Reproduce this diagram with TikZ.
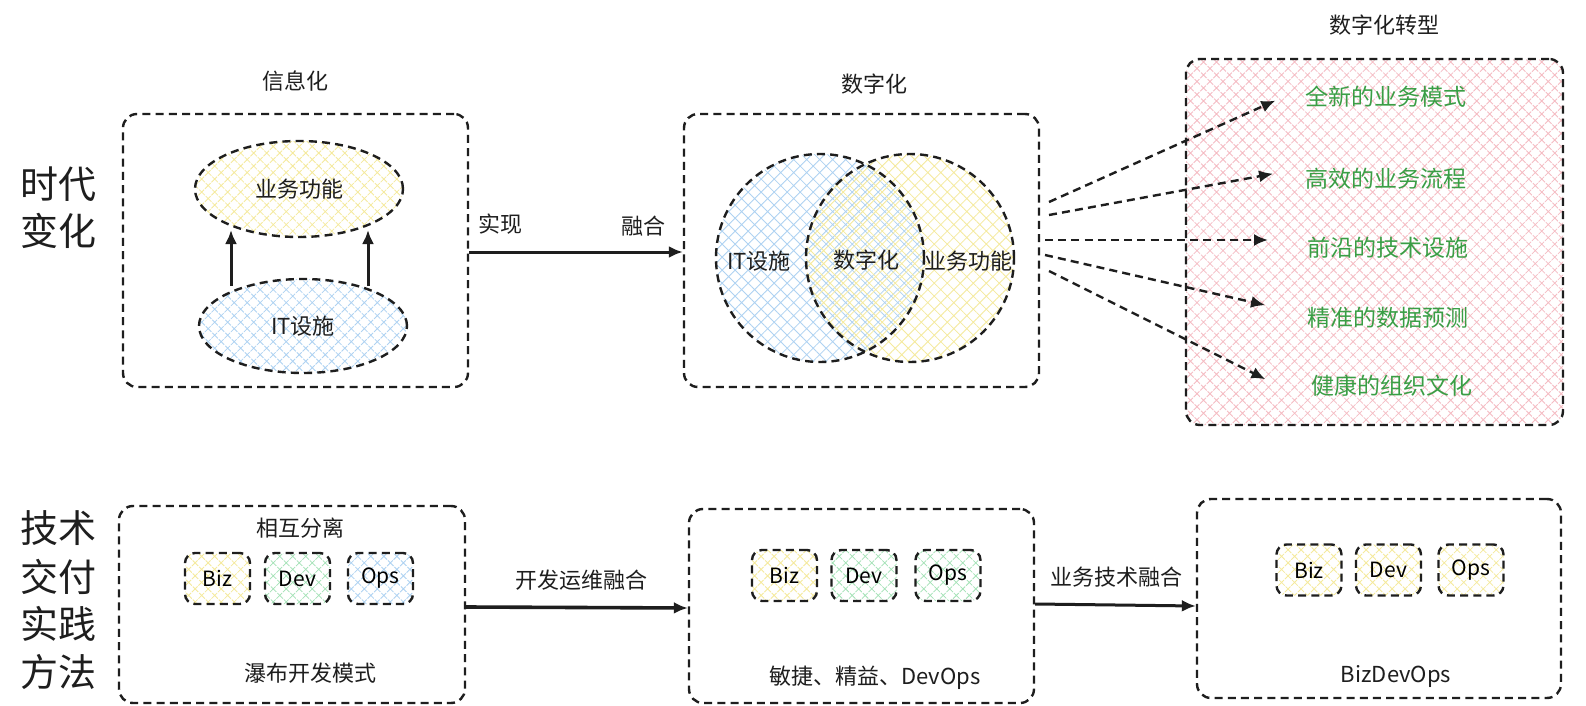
\documentclass[tikz,border=0pt]{standalone}
\usepackage{fontspec}
\setmainfont{Noto Sans CJK SC}
\usetikzlibrary{patterns.meta,shapes.geometric,arrows.meta,calc}
\definecolor{hy}{HTML}{F5EA9C}
\definecolor{hb}{HTML}{AED2F2}
\definecolor{hg}{HTML}{A3E2B6}
\definecolor{hp}{HTML}{F5BCC3}
\definecolor{gtxt}{HTML}{3A9E45}
\definecolor{ink}{HTML}{1E1E1E}
\tikzset{
  dsh/.style={draw=ink,line width=1.2pt,dash pattern=on 4pt off 2.6pt},
  bigbox/.style={dsh,rounded corners=7pt,inner sep=0pt},
  smallbox/.style={dsh,rounded corners=5pt,inner sep=0pt,minimum width=32.5pt,minimum height=25.5pt,font=\fontsize{10.5}{12}\selectfont},
  hatchy/.style={pattern={Hatch[angle=45,distance=4.6pt,line width=0.4pt]},pattern color=hy},
  hatchy2/.style={pattern={Hatch[angle=45,distance=4.6pt,line width=0.4pt,xshift=2pt]},pattern color=hy},
  hatchb/.style={pattern={Hatch[angle=45,distance=4.6pt,line width=0.4pt]},pattern color=hb},
  hatchg/.style={pattern={Hatch[angle=45,distance=4.6pt,line width=0.4pt]},pattern color=hg},
  hatchp/.style={pattern={Hatch[angle=45,distance=4.6pt,line width=0.4pt]},pattern color=hp},
  lbl/.style={font=\fontsize{11}{13}\selectfont,text=ink,inner sep=1pt},
  big/.style={font=\fontsize{19}{22}\selectfont,text=ink,inner sep=0pt},
  green/.style={font=\fontsize{11.5}{13}\selectfont,text=gtxt,inner sep=1pt},
  solidarrow/.style={draw=ink,line width=1.5pt,-{Latex[length=7pt,width=6pt]}},
  dasharrow/.style={dsh,-{Latex[length=7pt,width=6pt]},shorten >=2pt},
}
\begin{document}
\begin{tikzpicture}[x=0.5pt,y=-0.5pt]
\useasboundingbox[fill=white] (0,0) rectangle (1586,706);

% left labels
\node[big] (l1) at (58,184) {时代};
\node[big] (l2) at (58,231) {变化};
\node[big] (l3) at (58,528) {技术};
\node[big] (l4) at (58,577) {交付};
\node[big] (l5) at (58,624) {实践};
\node[big] (l6) at (58,672) {方法};

% ---- box 1 : 信息化
\node[bigbox,minimum width=172.5pt,minimum height=136.5pt] (box1) at (295.5,250.5) {};
\node[lbl] (t1) at (295,81) {信息化};
\node[ellipse,dsh,hatchy,minimum width=104pt,minimum height=48pt,inner sep=0pt,lbl] (biz1) at (299,189) {业务功能};
\node[ellipse,dsh,hatchb,minimum width=104pt,minimum height=47pt,inner sep=0pt,lbl] (it1) at (303,326) {IT设施};
\coordinate (up1) at (231,286);
\coordinate (up1e) at (231,230);
\coordinate (up2) at (368,286);
\coordinate (up2e) at (368,230);
\draw[solidarrow] (up1) -- (up1e);
\draw[solidarrow] (up2) -- (up2e);

% ---- box 2 : 数字化
\node[bigbox,minimum width=177.5pt,minimum height=136.5pt] (box2) at (861.5,250.5) {};
\node[lbl] (t2) at (874,84) {数字化};
\fill[hatchb] (820,258) circle (104);
\fill[hatchy2] (910,258) circle (104);
\node[circle,dsh,minimum size=104pt,inner sep=0pt] (cl) at (820,258) {};
\node[circle,dsh,minimum size=104pt,inner sep=0pt] (cr) at (910,258) {};
\node[lbl] (vit) at (759,261) {IT设施};
\node[lbl] (vdg) at (866,260) {数字化};
\node[lbl] (vbz) at (968,261) {业务功能};

% arrow box1 -> box2
\draw[solidarrow] (box1.east |- 0,252) -- (box2.west |- 0,252);
\node[lbl] (m1) at (500,224) {实现};
\node[lbl] (m2) at (643,226) {融合};

% ---- box 3 : 数字化转型
\node[bigbox,hatchp,minimum width=188.5pt,minimum height=183pt] (box3) at (1374.5,242) {};
\node[lbl] (t3) at (1384,25) {数字化转型};
\node[green] (g1) at (1386,97) {全新的业务模式};
\node[green] (g2) at (1386,179) {高效的业务流程};
\node[green] (g3) at (1388,248) {前沿的技术设施};
\node[green] (g4) at (1388,318) {精准的数据预测};
\node[green] (g5) at (1392,386) {健康的组织文化};
\coordinate (s1) at (1049,202);
\coordinate (s2) at (1049,215);
\coordinate (s3) at (1045,240);
\coordinate (s4) at (1045,255);
\coordinate (s5) at (1049,271);
\coordinate (e1) at (1279,99);
\coordinate (e2) at (1277,173);
\coordinate (e3) at (1272,240);
\coordinate (e4) at (1269,306);
\coordinate (e5) at (1269,381);
\draw[dasharrow] (s1) -- (e1);
\draw[dasharrow] (s2) -- (e2);
\draw[dasharrow] (s3) -- (e3);
\draw[dasharrow] (s4) -- (e4);
\draw[dasharrow] (s5) -- (e5);

% ---- box 4
\node[bigbox,minimum width=173pt,minimum height=98.5pt] (box4) at (292,604.5) {};
\node[lbl] (t4) at (300,528) {相互分离};
\node[smallbox,hatchy] (b4a) at (217.5,578.5) {Biz};
\node[smallbox,hatchg] (b4b) at (297.5,578.5) {Dev};
\node[smallbox,hatchb] (b4c) at (380.5,578.5) {Ops};
\node[lbl] (c4) at (310,673) {瀑布开发模式};

% ---- box 5
\node[bigbox,minimum width=172.5pt,minimum height=97pt] (box5) at (861.5,606) {};
\node[smallbox,hatchy] (b5a) at (784.5,575.5) {Biz};
\node[smallbox,hatchg] (b5b) at (864,575.5) {Dev};
\node[smallbox,hatchg] (b5c) at (948,575.5) {Ops};
\node[lbl] (c5) at (875,678) {敏捷、精益、DevOps};

% ---- box 6
\node[bigbox,minimum width=182pt,minimum height=99.5pt] (box6) at (1379,598.5) {};
\node[smallbox,hatchy] (b6a) at (1309,570) {Biz};
\node[smallbox,hatchy] (b6b) at (1388.5,570) {Dev};
\node[smallbox,hatchy] (b6c) at (1471,570) {Ops};
\node[lbl] (c6) at (1396,676) {BizDevOps};

% bottom arrows
\draw[solidarrow,line width=1.8pt] (box4.east |- 0,607) -- (box5.west |- 0,608);
\node[lbl] (m3) at (581,580) {开发运维融合};
\draw[solidarrow] (box5.east |- 0,604) -- (box6.west |- 0,606);
\node[lbl] (m4) at (1116,577) {业务技术融合};
\end{tikzpicture}
\end{document}
